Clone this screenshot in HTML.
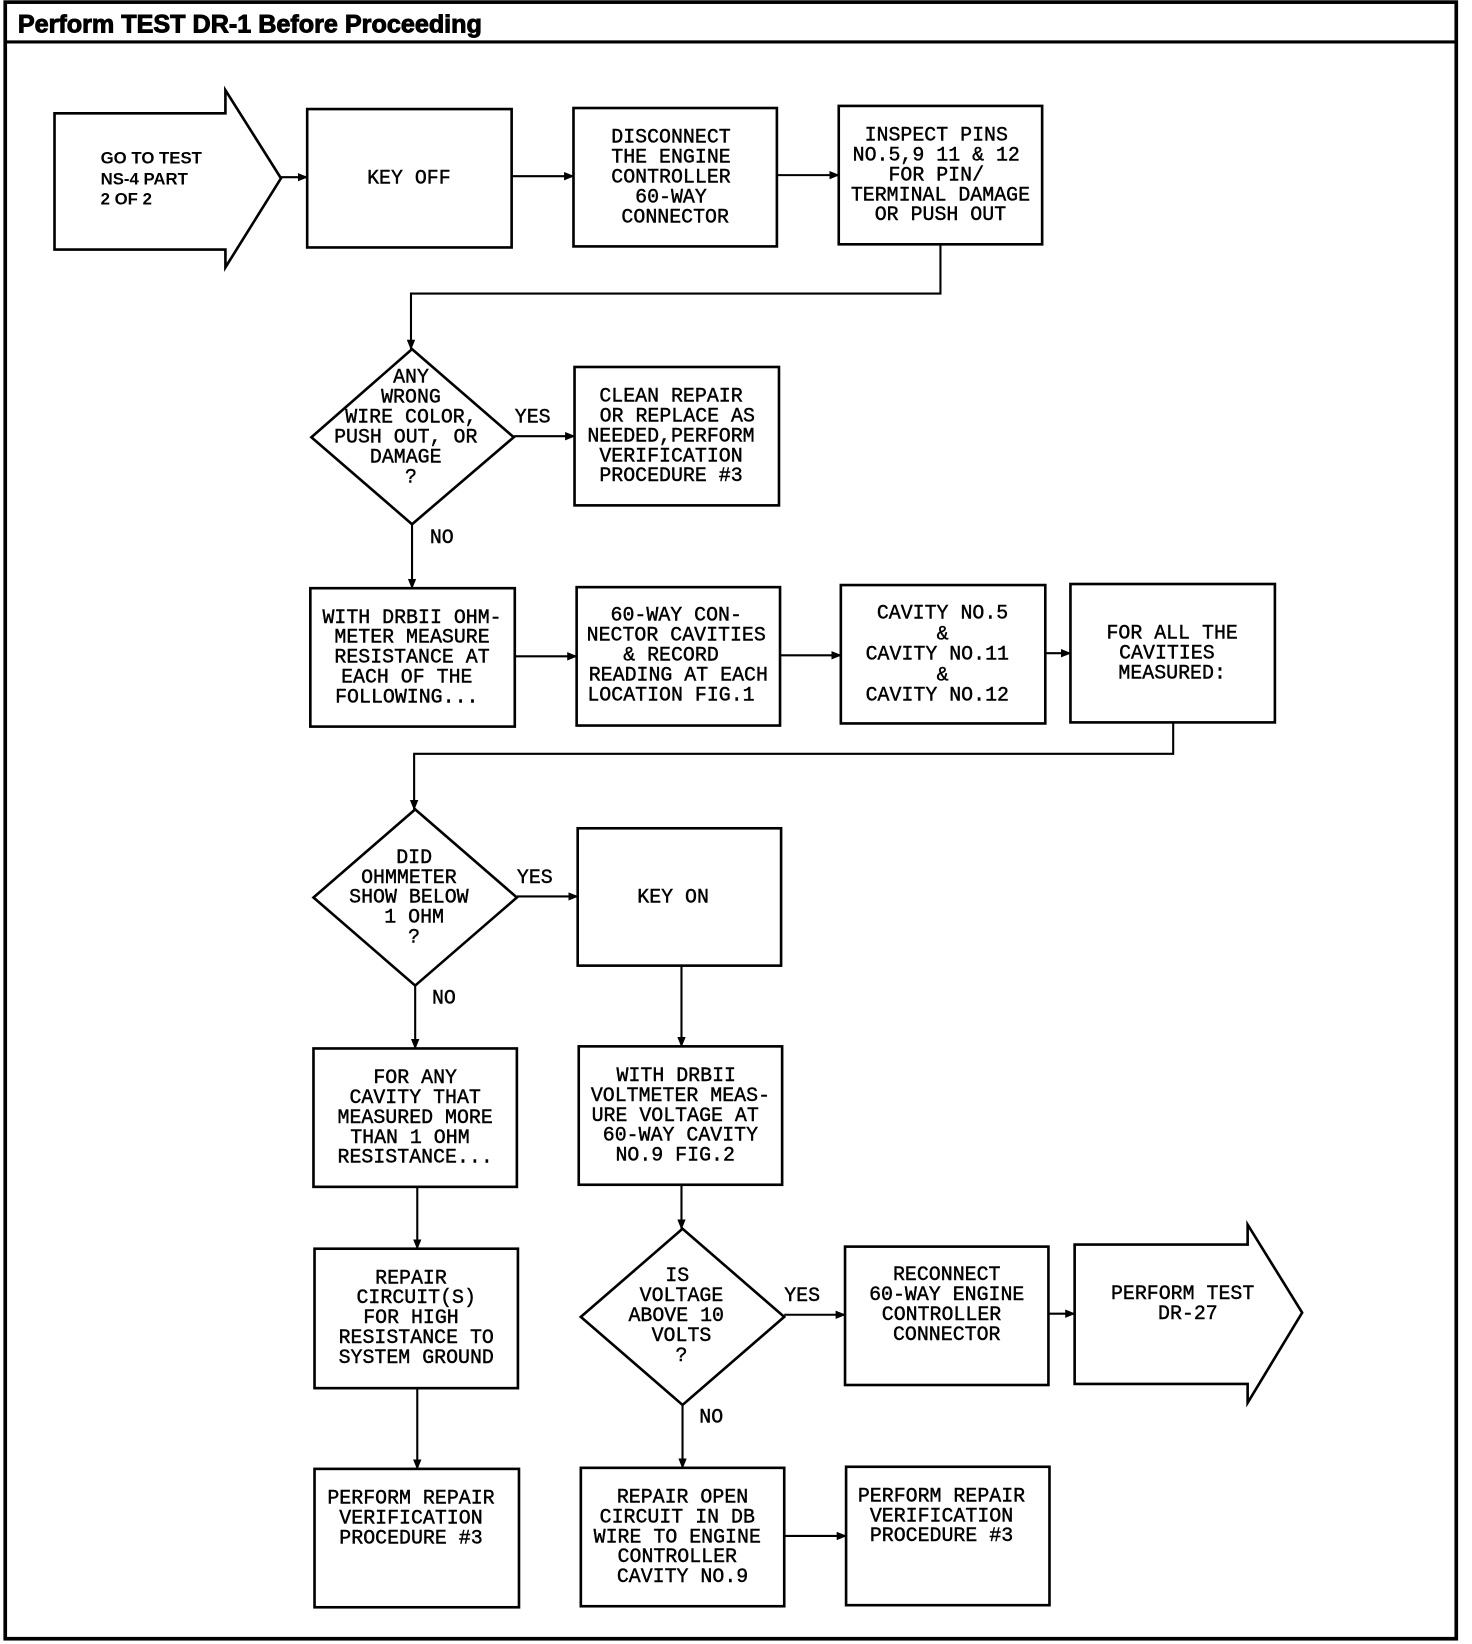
<!DOCTYPE html>
<html><head><meta charset="utf-8"><style>
html,body{margin:0;padding:0;background:#fff;}
svg{display:block}
.t{font-family:"Liberation Mono",monospace;font-size:19px;fill:#000;stroke:#000;stroke-width:0.4;text-anchor:middle}
.l{font-family:"Liberation Mono",monospace;font-size:19px;fill:#000;stroke:#000;stroke-width:0.4}
.b{font-family:"Liberation Sans",sans-serif;font-weight:bold;fill:#000}
</style></head><body>
<svg width="1472" height="1644" viewBox="0 0 1404 1568" xmlns="http://www.w3.org/2000/svg">
<defs><marker id="a" markerWidth="10" markerHeight="8" refX="9" refY="4" orient="auto" markerUnits="userSpaceOnUse"><path d="M0,0 L10,4 L0,8 z" fill="#000"/></marker></defs>
<g fill="none" stroke="#000" stroke-width="2.5">
<rect x="5" y="2" width="1384" height="1561" stroke-width="3.5"/>
<line x1="5" y1="40" x2="1389" y2="40" stroke-width="3"/>
<path d="M52,108 H215 V86 L268,170 L215,255 V238 H52 Z"/>
<rect x="293" y="104" width="195" height="132"/>
<rect x="547" y="103" width="194" height="132"/>
<rect x="800" y="101" width="194" height="132"/>
<path d="M393,333 L490,417 L393,500 L297,417 Z"/>
<rect x="548" y="350" width="195" height="132"/>
<rect x="296" y="561" width="195" height="132"/>
<rect x="550" y="560" width="194" height="132"/>
<rect x="802" y="558" width="195" height="132"/>
<rect x="1021" y="557" width="195" height="132"/>
<path d="M396,772 L493,856 L396,940 L299,856 Z"/>
<rect x="551" y="790" width="194" height="131"/>
<rect x="299" y="1000" width="194" height="132"/>
<rect x="552" y="998" width="194" height="132"/>
<path d="M651,1172 L748,1256 L651,1340 L554,1256 Z"/>
<rect x="806" y="1189" width="194" height="132"/>
<path d="M1025,1187 H1190 V1168 L1242,1252 L1190,1338 V1320 H1025 Z"/>
<rect x="300" y="1191" width="194" height="133"/>
<rect x="300" y="1401" width="195" height="132"/>
<rect x="554" y="1400" width="194" height="132"/>
<rect x="807" y="1399" width="194" height="132"/>
</g>
<g fill="none" stroke="#000" stroke-width="2" marker-end="url(#a)">
<line x1="268" y1="169" x2="293" y2="169"/>
<line x1="488" y1="168" x2="547" y2="168"/>
<line x1="741" y1="167" x2="800" y2="167"/>
<polyline points="897,233 897,280 392,280 392,333"/>
<line x1="490" y1="416" x2="548" y2="416"/>
<line x1="393" y1="500" x2="393" y2="561"/>
<line x1="491" y1="626" x2="550" y2="626"/>
<line x1="744" y1="625" x2="802" y2="625"/>
<line x1="997" y1="623" x2="1021" y2="623"/>
<polyline points="1119,689 1119,719 395,719 395,772"/>
<line x1="493" y1="855" x2="551" y2="855"/>
<line x1="396" y1="940" x2="396" y2="1000"/>
<line x1="650" y1="921" x2="650" y2="998"/>
<line x1="650" y1="1130" x2="650" y2="1172"/>
<line x1="748" y1="1254" x2="806" y2="1254"/>
<line x1="1000" y1="1253" x2="1025" y2="1253"/>
<line x1="398" y1="1132" x2="398" y2="1191"/>
<line x1="398" y1="1324" x2="398" y2="1401"/>
<line x1="651" y1="1340" x2="651" y2="1400"/>
<line x1="748" y1="1465" x2="807" y2="1465"/>
</g>
<text x="17" y="31" class="b" font-size="24" stroke="#000" stroke-width="0.9">Perform TEST DR-1 Before Proceeding</text>
<g class="b" font-size="16"><text x="96" y="156">GO TO TEST</text><text x="96" y="176">NS-4 PART</text><text x="96" y="195">2 OF 2</text></g>
<g class="t">
<text x="390" y="175">KEY OFF</text>
<text x="640" y="136">DISCONNECT</text><text x="640" y="155">THE ENGINE</text><text x="640" y="174">CONTROLLER</text><text x="640" y="193">60-WAY</text><text x="644" y="212">CONNECTOR</text>
<text x="893" y="134">INSPECT PINS</text><text x="893" y="153">NO.5,9 11 &amp; 12</text><text x="893" y="172">FOR PIN/</text><text x="897" y="191">TERMINAL DAMAGE</text><text x="897" y="210">OR PUSH OUT</text>
<text x="392" y="365">ANY</text><text x="392" y="384">WRONG</text><text x="392" y="403">WIRE COLOR,</text><text x="387" y="422">PUSH OUT, OR</text><text x="387" y="441">DAMAGE</text><text x="392" y="460">?</text>
<text x="640" y="383">CLEAN REPAIR</text><text x="646" y="402">OR REPLACE AS</text><text x="640" y="421">NEEDED,PERFORM</text><text x="640" y="440">VERIFICATION</text><text x="640" y="459">PROCEDURE #3</text>
<text x="393" y="594">WITH DRBII OHM-</text><text x="393" y="613">METER MEASURE</text><text x="393" y="632">RESISTANCE AT</text><text x="388" y="651">EACH OF THE</text><text x="388" y="670">FOLLOWING...</text>
<text x="645" y="592">60-WAY CON-</text><text x="645" y="611">NECTOR CAVITIES</text><text x="640" y="630">&amp; RECORD</text><text x="647" y="649">READING AT EACH</text><text x="640" y="668">LOCATION FIG.1</text>
<text x="899" y="590">CAVITY NO.5</text><text x="899" y="610">&amp;</text><text x="894" y="629">CAVITY NO.11</text><text x="899" y="649">&amp;</text><text x="894" y="668">CAVITY NO.12</text>
<text x="1118" y="609">FOR ALL THE</text><text x="1113" y="628">CAVITIES</text><text x="1118" y="647">MEASURED:</text>
<text x="395" y="823">DID</text><text x="390" y="842">OHMMETER</text><text x="390" y="861">SHOW BELOW</text><text x="395" y="880">1 OHM</text><text x="395" y="899">?</text>
<text x="642" y="861">KEY ON</text>
<text x="396" y="1033">FOR ANY</text><text x="396" y="1052">CAVITY THAT</text><text x="396" y="1071">MEASURED MORE</text><text x="391" y="1090">THAN 1 OHM</text><text x="396" y="1109">RESISTANCE...</text>
<text x="645" y="1031">WITH DRBII</text><text x="649" y="1050">VOLTMETER MEAS-</text><text x="644" y="1069">URE VOLTAGE AT</text><text x="649" y="1088">60-WAY CAVITY</text><text x="644" y="1107">NO.9 FIG.2</text>
<text x="646" y="1222">IS</text><text x="650" y="1241">VOLTAGE</text><text x="645" y="1260">ABOVE 10</text><text x="650" y="1279">VOLTS</text><text x="650" y="1298">?</text>
<text x="903" y="1221">RECONNECT</text><text x="903" y="1240">60-WAY ENGINE</text><text x="898" y="1259">CONTROLLER</text><text x="903" y="1278">CONNECTOR</text>
<text x="1128" y="1239">PERFORM TEST</text><text x="1133" y="1258">DR-27</text>
<text x="392" y="1224">REPAIR</text><text x="397" y="1243">CIRCUIT(S)</text><text x="392" y="1262">FOR HIGH</text><text x="397" y="1281">RESISTANCE TO</text><text x="397" y="1300">SYSTEM GROUND</text>
<text x="392" y="1434">PERFORM REPAIR</text><text x="392" y="1453">VERIFICATION</text><text x="392" y="1472">PROCEDURE #3</text>
<text x="651" y="1433">REPAIR OPEN</text><text x="646" y="1452">CIRCUIT IN DB</text><text x="646" y="1471">WIRE TO ENGINE</text><text x="646" y="1490">CONTROLLER</text><text x="651" y="1509">CAVITY NO.9</text>
<text x="898" y="1432">PERFORM REPAIR</text><text x="898" y="1451">VERIFICATION</text><text x="898" y="1470">PROCEDURE #3</text>
</g>
<g class="l">
<text x="491" y="403">YES</text><text x="410" y="518">NO</text>
<text x="493" y="842">YES</text><text x="412" y="957">NO</text>
<text x="748" y="1241">YES</text><text x="667" y="1357">NO</text>
</g>
</svg>
</body></html>
